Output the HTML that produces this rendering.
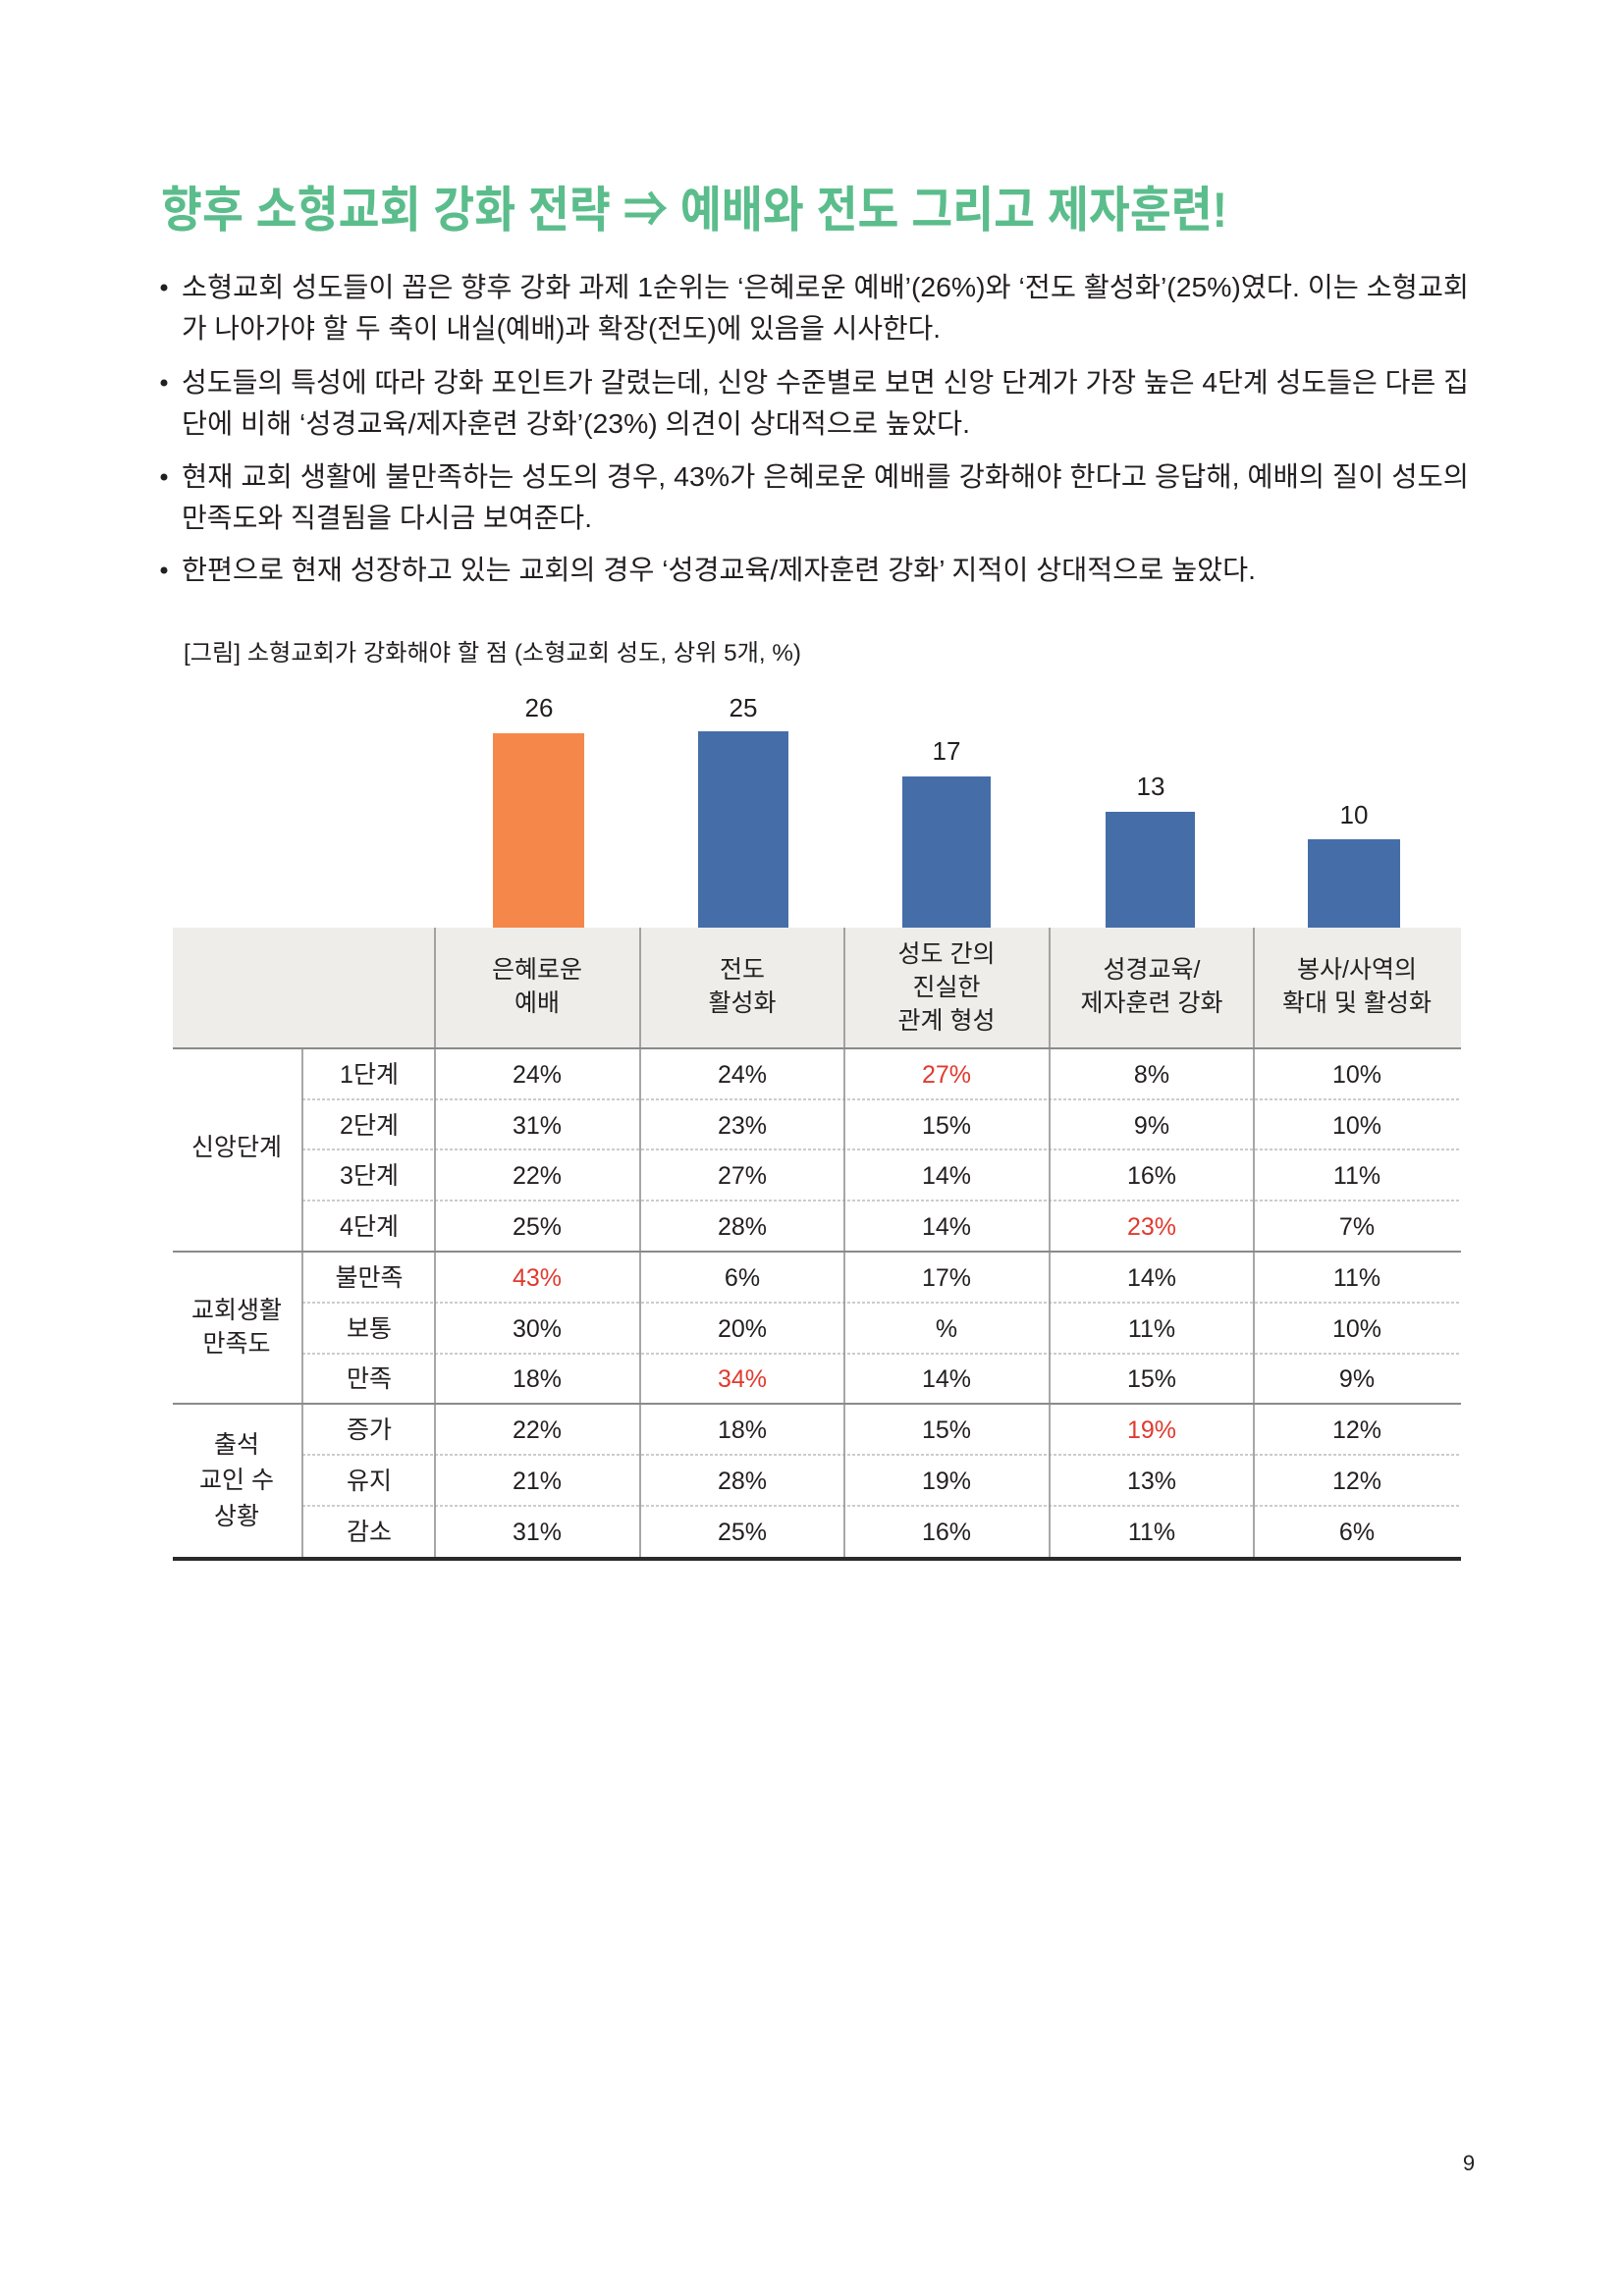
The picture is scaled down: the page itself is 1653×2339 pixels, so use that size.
<!DOCTYPE html>
<html><head><meta charset="utf-8"><style>
html,body{margin:0;padding:0;background:#fff;}
svg{display:block;font-family:"Liberation Sans","Noto Sans CJK KR",sans-serif;}
</style></head><body>
<svg width="1653" height="2339" viewBox="0 0 1653 2339" xmlns="http://www.w3.org/2000/svg">
<rect width="1653" height="2339" fill="#fff"/>
<text x="164" y="231" font-size="50" font-weight="bold" fill="#5bbd8b" textLength="1086" lengthAdjust="spacingAndGlyphs">향후 소형교회 강화 전략 ⇒ 예배와 전도 그리고 제자훈련!</text>
<g font-size="28" fill="#231f20">
<circle cx="167" cy="293" r="3.5"/><circle cx="167" cy="390" r="3.5"/><circle cx="167" cy="486" r="3.5"/><circle cx="167" cy="581" r="3.5"/>
<text x="185" y="302" textLength="1311" lengthAdjust="spacingAndGlyphs">소형교회 성도들이 꼽은 향후 강화 과제 1순위는 ‘은혜로운 예배’(26%)와 ‘전도 활성화’(25%)였다. 이는 소형교회</text>
<text x="185" y="344" textLength="773" lengthAdjust="spacingAndGlyphs">가 나아가야 할 두 축이 내실(예배)과 확장(전도)에 있음을 시사한다.</text>
<text x="185" y="399" textLength="1311" lengthAdjust="spacingAndGlyphs">성도들의 특성에 따라 강화 포인트가 갈렸는데, 신앙 수준별로 보면 신앙 단계가 가장 높은 4단계 성도들은 다른 집</text>
<text x="185" y="441" textLength="803" lengthAdjust="spacingAndGlyphs">단에 비해 ‘성경교육/제자훈련 강화’(23%) 의견이 상대적으로 높았다.</text>
<text x="185" y="495" textLength="1311" lengthAdjust="spacingAndGlyphs">현재 교회 생활에 불만족하는 성도의 경우, 43%가 은혜로운 예배를 강화해야 한다고 응답해, 예배의 질이 성도의</text>
<text x="185" y="537" textLength="418" lengthAdjust="spacingAndGlyphs">만족도와 직결됨을 다시금 보여준다.</text>
<text x="185" y="590" textLength="1094" lengthAdjust="spacingAndGlyphs">한편으로 현재 성장하고 있는 교회의 경우 ‘성경교육/제자훈련 강화’ 지적이 상대적으로 높았다.</text>
</g>
<text x="187" y="673" font-size="24" fill="#231f20" textLength="629" lengthAdjust="spacingAndGlyphs">[그림] 소형교회가 강화해야 할 점 (소형교회 성도, 상위 5개, %)</text>
<!-- bars -->
<rect x="502" y="747" width="93" height="198" fill="#f5874a"/>
<rect x="711" y="745" width="92" height="200" fill="#456ea8"/>
<rect x="919" y="791" width="90" height="154" fill="#456ea8"/>
<rect x="1126" y="827" width="91" height="118" fill="#456ea8"/>
<rect x="1332" y="855" width="94" height="90" fill="#456ea8"/>
<g font-size="26" fill="#231f20" text-anchor="middle">
<text x="549" y="730">26</text><text x="757" y="730">25</text><text x="964" y="774">17</text><text x="1172" y="810">13</text><text x="1379" y="839">10</text>
</g>
<!-- header -->
<rect x="176" y="945" width="1312" height="123" fill="#efedea"/>
<g stroke="#8a8a8a" stroke-width="1.5">
<line x1="443" y1="945" x2="443" y2="1586"/><line x1="652" y1="945" x2="652" y2="1586"/><line x1="860" y1="945" x2="860" y2="1586"/><line x1="1069" y1="945" x2="1069" y2="1586"/><line x1="1277" y1="945" x2="1277" y2="1586"/>
<line x1="308" y1="1068" x2="308" y2="1586"/>
<line x1="176" y1="1068" x2="1488" y2="1068" stroke-width="2"/>
<line x1="176" y1="1275" x2="1488" y2="1275" stroke-width="2"/>
<line x1="176" y1="1430" x2="1488" y2="1430" stroke-width="2"/>
</g>
<g stroke="#999" stroke-width="1" stroke-dasharray="3,2">
<line x1="308" y1="1120" x2="1488" y2="1120"/><line x1="308" y1="1171" x2="1488" y2="1171"/><line x1="308" y1="1223" x2="1488" y2="1223"/>
<line x1="308" y1="1327" x2="1488" y2="1327"/><line x1="308" y1="1379" x2="1488" y2="1379"/>
<line x1="308" y1="1482" x2="1488" y2="1482"/><line x1="308" y1="1534" x2="1488" y2="1534"/>
</g>
<rect x="176" y="1586" width="1312" height="4" fill="#2a2a2a"/>
<g font-size="25" fill="#231f20" text-anchor="middle">
<text x="547" y="996">은혜로운</text><text x="547" y="1030">예배</text>
<text x="756" y="996">전도</text><text x="756" y="1030">활성화</text>
<text x="964" y="980">성도 간의</text><text x="964" y="1014">진실한</text><text x="964" y="1048">관계 형성</text>
<text x="1173" y="996">성경교육/</text><text x="1173" y="1030">제자훈련 강화</text>
<text x="1382" y="996">봉사/사역의</text><text x="1382" y="1030">확대 및 활성화</text>
<text x="241" y="1177">신앙단계</text>
<text x="241" y="1343">교회생활</text><text x="241" y="1377">만족도</text>
<text x="241" y="1480">출석</text><text x="241" y="1516">교인 수</text><text x="241" y="1553">상황</text>
</g>
<g font-size="25" fill="#231f20" text-anchor="middle">
<g transform="translate(0,1103)"><text x="376">1단계</text><text x="547">24%</text><text x="756">24%</text><text x="964" fill="#e03a2f">27%</text><text x="1173">8%</text><text x="1382">10%</text></g>
<g transform="translate(0,1155)"><text x="376">2단계</text><text x="547">31%</text><text x="756">23%</text><text x="964">15%</text><text x="1173">9%</text><text x="1382">10%</text></g>
<g transform="translate(0,1206)"><text x="376">3단계</text><text x="547">22%</text><text x="756">27%</text><text x="964">14%</text><text x="1173">16%</text><text x="1382">11%</text></g>
<g transform="translate(0,1258)"><text x="376">4단계</text><text x="547">25%</text><text x="756">28%</text><text x="964">14%</text><text x="1173" fill="#e03a2f">23%</text><text x="1382">7%</text></g>
<g transform="translate(0,1310)"><text x="376">불만족</text><text x="547" fill="#e03a2f">43%</text><text x="756">6%</text><text x="964">17%</text><text x="1173">14%</text><text x="1382">11%</text></g>
<g transform="translate(0,1362)"><text x="376">보통</text><text x="547">30%</text><text x="756">20%</text><text x="964">%</text><text x="1173">11%</text><text x="1382">10%</text></g>
<g transform="translate(0,1413)"><text x="376">만족</text><text x="547">18%</text><text x="756" fill="#e03a2f">34%</text><text x="964">14%</text><text x="1173">15%</text><text x="1382">9%</text></g>
<g transform="translate(0,1465)"><text x="376">증가</text><text x="547">22%</text><text x="756">18%</text><text x="964">15%</text><text x="1173" fill="#e03a2f">19%</text><text x="1382">12%</text></g>
<g transform="translate(0,1517)"><text x="376">유지</text><text x="547">21%</text><text x="756">28%</text><text x="964">19%</text><text x="1173">13%</text><text x="1382">12%</text></g>
<g transform="translate(0,1569)"><text x="376">감소</text><text x="547">31%</text><text x="756">25%</text><text x="964">16%</text><text x="1173">11%</text><text x="1382">6%</text></g>
</g>
<text x="1496" y="2211" font-size="22" fill="#231f20" text-anchor="middle">9</text>
</svg>
</body></html>
